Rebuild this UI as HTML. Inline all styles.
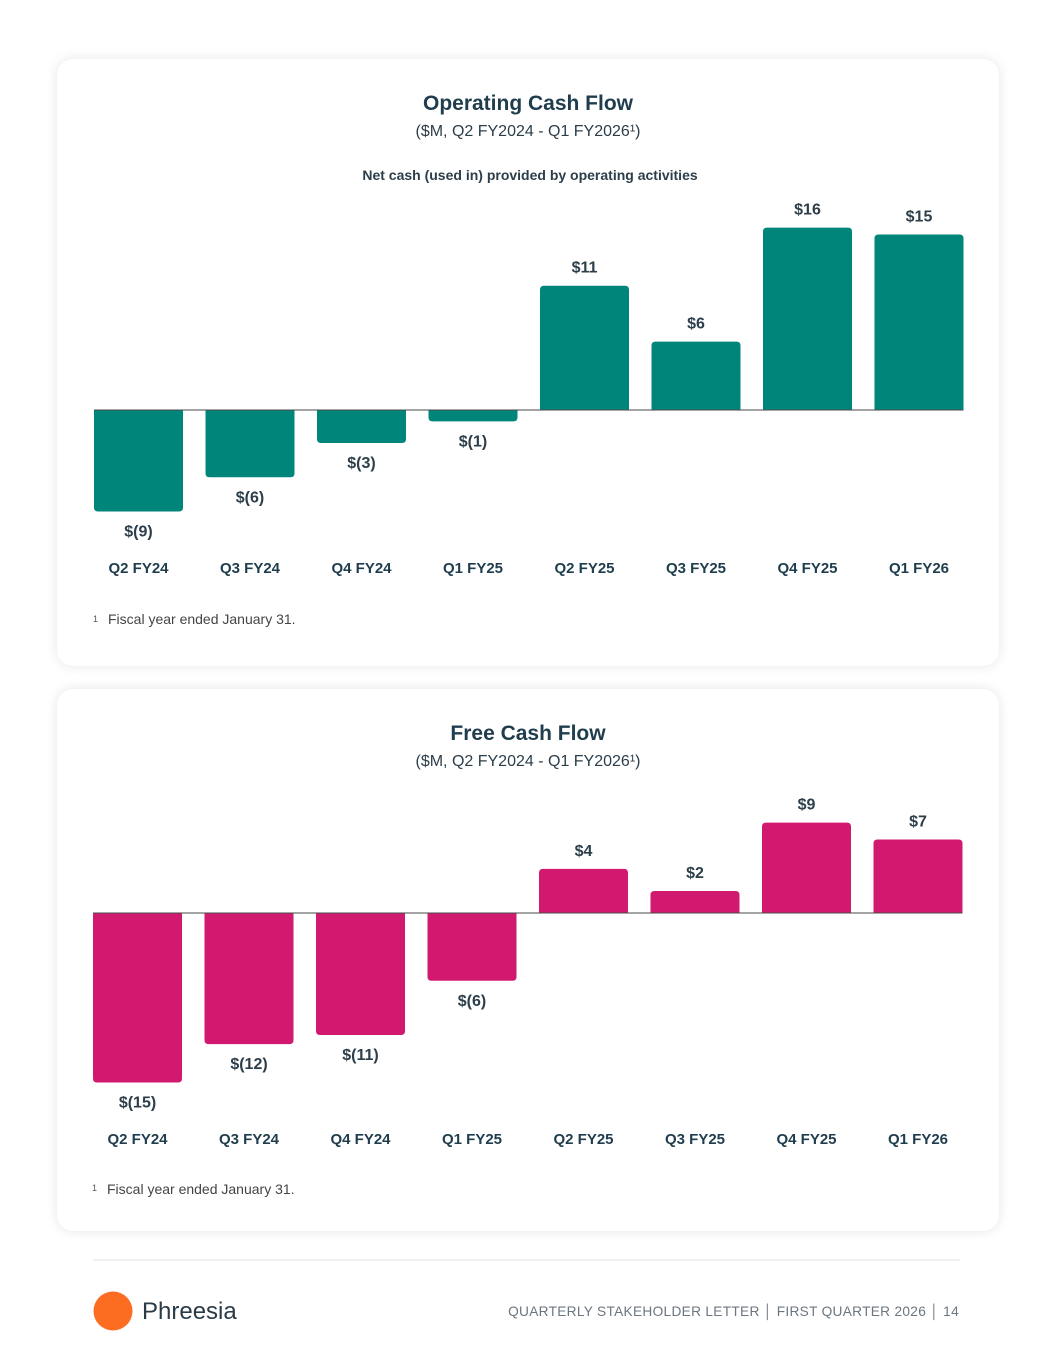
<!DOCTYPE html>
<html><head><meta charset="utf-8"><style>
body{margin:0;width:1055px;height:1365px;background:#fff;font-family:"Liberation Sans",sans-serif;position:relative;overflow:hidden}
.card{position:absolute;left:57px;width:942px;background:#fff;border-radius:16px;box-shadow:0 0 12px rgba(0,0,0,0.10)}
svg text{font-family:"Liberation Sans",sans-serif}
</style></head><body>
<div class="card" style="top:59px;height:607px"></div>
<div class="card" style="top:689px;height:542px"></div>
<svg id="s" width="1055" height="1365" style="position:absolute;left:0;top:0">
<text x="528" y="110" text-anchor="middle" font-size="21" font-weight="bold" fill="#1f3d4c">Operating Cash Flow</text>
<text x="528" y="136" text-anchor="middle" font-size="16" fill="#2c3e4a">($M, Q2 FY2024 - Q1 FY2026¹)</text>
<text x="530" y="180" text-anchor="middle" font-size="14" font-weight="bold" fill="#2c3e4a">Net cash (used in) provided by operating activities</text>
<text x="93" y="622" font-size="9" fill="#555">1</text>
<text x="108" y="624" font-size="14" fill="#444">Fiscal year ended January 31.</text>
<text x="528" y="740" text-anchor="middle" font-size="21" font-weight="bold" fill="#1f3d4c">Free Cash Flow</text>
<text x="528" y="766" text-anchor="middle" font-size="16" fill="#2c3e4a">($M, Q2 FY2024 - Q1 FY2026¹)</text>
<text x="92" y="1191" font-size="9" fill="#555">1</text>
<text x="107" y="1194" font-size="14" fill="#444">Fiscal year ended January 31.</text>
<line x1="93" y1="1260" x2="960" y2="1260" stroke="#e2e2e2"/>
<circle cx="113" cy="1311" r="19.5" fill="#fd6d21"/>
<text x="142" y="1319" font-size="24" fill="#2a3a46">Phreesia</text>
<text x="959" y="1316" text-anchor="end" font-size="13.7" letter-spacing="0.3" fill="#6b7680">QUARTERLY STAKEHOLDER LETTER  │  FIRST QUARTER 2026  │  14</text>
</svg>
<script>
const categories=["Q2 FY24","Q3 FY24","Q4 FY24","Q1 FY25","Q2 FY25","Q3 FY25","Q4 FY25","Q1 FY26"];
const ocfValues=[-8.9,-5.9,-2.9,-1.0,10.9,6.0,16.0,15.4];
const ocfLabels=["$(9)","$(6)","$(3)","$(1)","$11","$6","$16","$15"];
const fcfValues=[-15.0,-11.6,-10.8,-6.0,3.9,1.95,8.0,6.5];
const fcfLabels=["$(15)","$(12)","$(11)","$(6)","$4","$2","$9","$7"];
const svg=document.getElementById('s');
const NS='http://www.w3.org/2000/svg';
function mk(t,a){const e=document.createElementNS(NS,t);for(const k in a)e.setAttribute(k,a[k]);svg.appendChild(e);return e;}
function chart(prefix,vals,labels,base,scale,color,x0,catY){
  const pitch=111.5,bw=89;
  const xs=i=>x0+i*pitch;
  const ys=v=>base-v*scale;
  vals.forEach((v,i)=>{
    const top=Math.min(ys(v),base),h=Math.abs(v*scale);
    const r=mk('path',{fill:color});
    const x=xs(i),rr=Math.min(4,h);
    let d;
    if(v>=0)d=`M${x},${base}V${top+rr}Q${x},${top} ${x+rr},${top}H${x+bw-rr}Q${x+bw},${top} ${x+bw},${top+rr}V${base}Z`;
    else{const b=base+h;d=`M${x},${base}V${b-rr}Q${x},${b} ${x+rr},${b}H${x+bw-rr}Q${x+bw},${b} ${x+bw},${b-rr}V${base}Z`;}
    r.setAttribute('d',d);
    
    
    const ly=v>=0?ys(v)-13:ys(v)+25;
    const t=mk('text',{x:x+bw/2,y:ly,'text-anchor':'middle','font-size':16,'font-weight':'bold',fill:'#2c3e4a'});
    t.textContent=labels[i];
    
    
    const c=mk('text',{x:x+bw/2,y:catY,'text-anchor':'middle','font-size':15,'font-weight':'bold',fill:'#1f3d4c'});
    c.textContent=categories[i];
    
    
  });
  const l=mk('line',{x1:x0,x2:xs(vals.length-1)+bw,y1:base,y2:base,stroke:'#4a4a4a','stroke-width':1});
  
  
}
chart('ocf',ocfValues,ocfLabels,410,11.4,'#00857a',94,573);
chart('fcf',fcfValues,fcfLabels,913,11.3,'#d0196f',93,1144);
</script>
</body></html>
